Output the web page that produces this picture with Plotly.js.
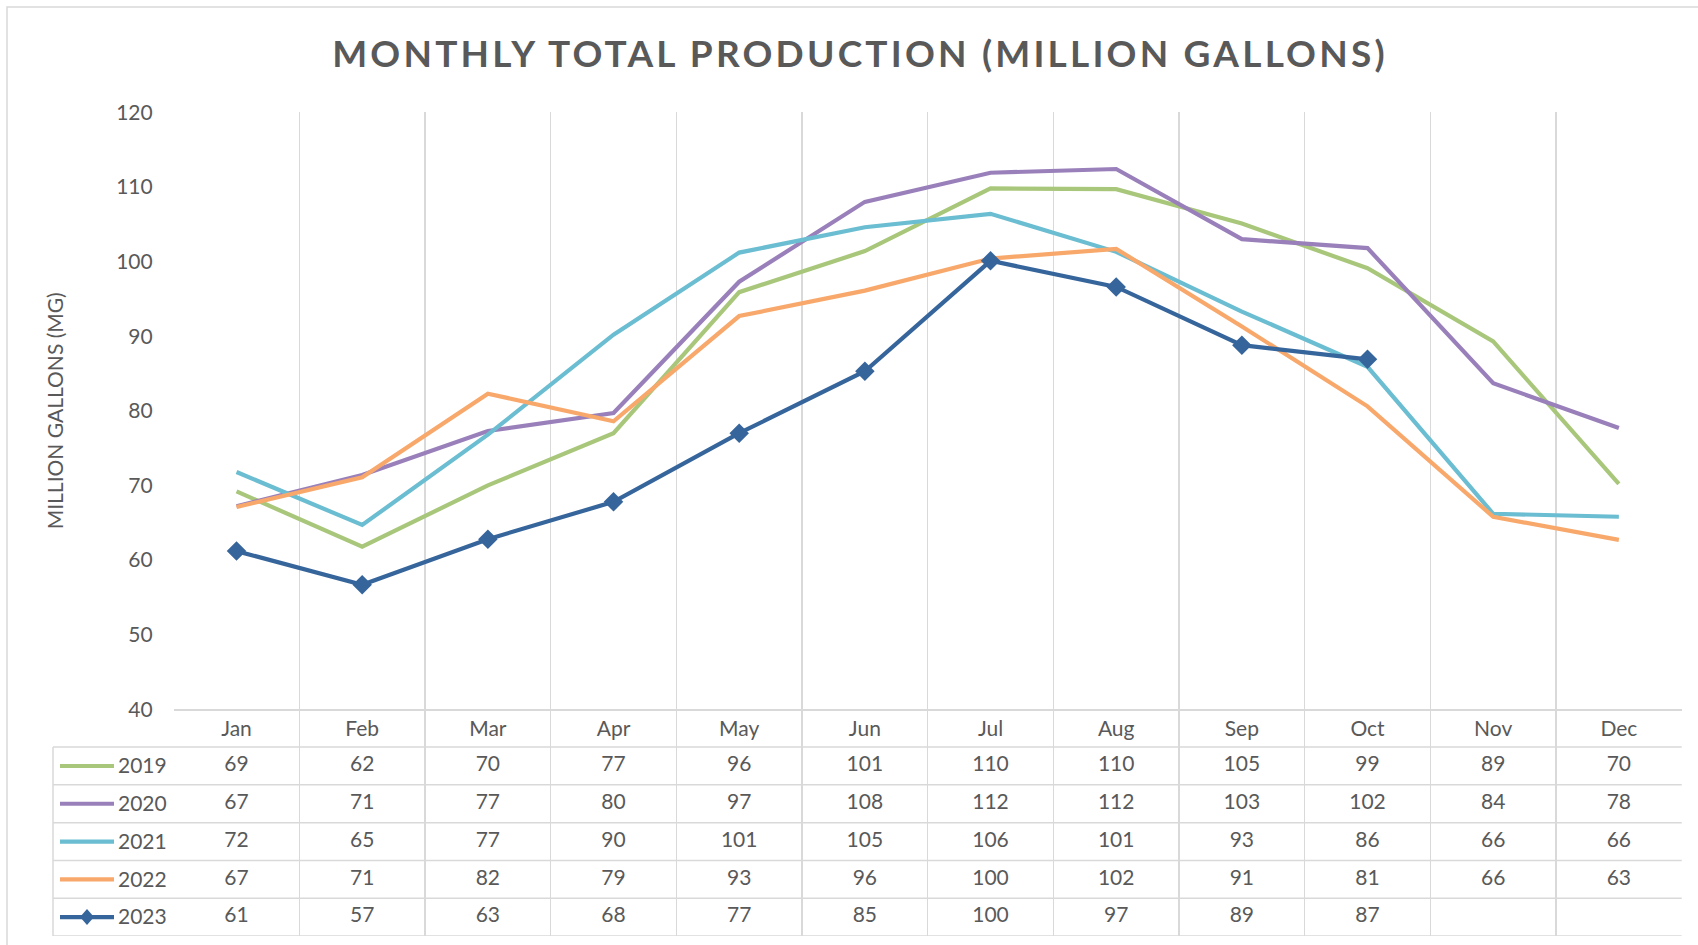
<!DOCTYPE html>
<html>
<head>
<meta charset="utf-8">
<script src="https://cdn.plot.ly/plotly-3.0.1.min.js"></script>
<style>
  html, body { margin: 0; padding: 0; background: #ffffff; }
  #chart { width: 1698px; height: 945px; }
  .gtitle { letter-spacing: 3.2px; }
</style>
</head>
<body>
<div id="chart"></div>
<script>
// ---- Data ----
const months = ['Jan', 'Feb', 'Mar', 'Apr', 'May', 'Jun', 'Jul', 'Aug', 'Sep', 'Oct', 'Nov', 'Dec'];
const years = ['2019', '2020', '2021', '2022', '2023'];
const v2019 = [69.2, 61.8, 70.0, 77.0, 95.9, 101.4, 109.8, 109.7, 105.1, 99.1, 89.3, 70.2];
const v2020 = [67.2, 71.4, 77.3, 79.7, 97.3, 108.0, 111.9, 112.4, 103.0, 101.8, 83.7, 77.7];
const v2021 = [71.8, 64.7, 76.8, 90.2, 101.2, 104.6, 106.4, 101.3, 93.3, 85.9, 66.2, 65.8];
const v2022 = [67.1, 71.1, 82.3, 78.6, 92.7, 96.1, 100.4, 101.7, 91.3, 80.6, 65.8, 62.7];
const v2023 = [61.2, 56.7, 62.8, 67.8, 77.0, 85.3, 100.1, 96.6, 88.8, 86.9, null, null];
const titleText = 'MONTHLY TOTAL PRODUCTION (MILLION GALLONS)';
const yTitleText = 'MILLION GALLONS (MG)';

// ---- Styling ----
const seriesValues = [v2019, v2020, v2021, v2022, v2023];
const seriesColors = ['#a9c77b', '#9a80ba', '#6bbdd1', '#f8a86b', '#36659c'];
const textColor = '#595959';
const gridColor = '#d9d9d9';
const W = 1698, H = 945;
const plotLeft = 173.7, plotRight = 1681.7, plotTop = 112.3, axisY = 709.3, tableBottom = 936;
const tableLeft = 53;
const FONT = 'Lato, "Open Sans", sans-serif';
const FS = 21;

const traces = [];
// Lines
seriesValues.forEach((vals, i) => {
  const isLast = i === seriesValues.length - 1;
  traces.push({
    type: 'scatter',
    x: months,
    y: vals,
    name: years[i],
    mode: isLast ? 'lines+markers' : 'lines',
    line: { color: seriesColors[i], width: 4.2 },
    marker: { symbol: 'diamond', size: 15, color: seriesColors[i] },
    xaxis: 'x', yaxis: 'y',
    hoverinfo: 'x+y+name',
    connectgaps: false
  });
});
// Data table cells (rounded values), one text trace per series row
seriesValues.forEach((vals, i) => {
  const xs = [], ys = [], ts = [];
  vals.forEach((v, j) => {
    if (v !== null) { xs.push(months[j]); ys.push(i + 1.5); ts.push(String(Math.round(v))); }
  });
  traces.push({
    type: 'scatter',
    x: xs, y: ys, text: ts,
    mode: 'text',
    textposition: 'middle center',
    textfont: { family: FONT, size: FS, color: textColor },
    xaxis: 'x', yaxis: 'y2',
    hoverinfo: 'skip',
    cliponaxis: false
  });
});

const shapes = [];
// table horizontal rules
for (let k = 1; k <= years.length + 1; k++) {
  shapes.push({ type: 'line', xref: 'paper', yref: 'y2', x0: tableLeft / W, x1: plotRight / W, y0: k, y1: k,
    line: { color: gridColor, width: 1.5 } });
}
// table left edge
shapes.push({ type: 'line', xref: 'paper', yref: 'y2', x0: tableLeft / W, x1: tableLeft / W, y0: 1, y1: years.length + 1,
  line: { color: gridColor, width: 1.5 } });
// legend keys in table
seriesColors.forEach((c, i) => {
  shapes.push({ type: 'line', xref: 'paper', yref: 'y2', x0: 60 / W, x1: 114 / W, y0: i + 1.5, y1: i + 1.5,
    line: { color: c, width: 4.2 } });
});
shapes.push({ type: 'path', xref: 'paper', yref: 'y2', xsizemode: 'pixel', ysizemode: 'pixel',
  xanchor: 87 / W, yanchor: years.length + 0.5,
  path: 'M -7 0 L 0 8 L 7 0 L 0 -8 Z', fillcolor: seriesColors[4], line: { width: 0 } });
// chart border
shapes.push({ type: 'rect', xref: 'paper', yref: 'paper', x0: 7 / W, x1: 1.05, y0: -0.05, y1: 1 - 7 / H,
  line: { color: gridColor, width: 1.5 }, fillcolor: 'rgba(0,0,0,0)' });

const layout = {
  width: W, height: H,
  margin: { l: 0, r: 0, t: 0, b: 0 },
  paper_bgcolor: '#ffffff', plot_bgcolor: 'rgba(0,0,0,0)',
  font: { family: FONT, size: FS, color: textColor },
  showlegend: false,
  title: {
    text: titleText,
    font: { family: FONT, size: 37, weight: 700, color: textColor },
    xref: 'container', yref: 'container',
    x: 860 / W, xanchor: 'center',
    y: 1 - 53.7 / H, yanchor: 'middle'
  },
  xaxis: {
    domain: [plotLeft / W, plotRight / W],
    type: 'category', range: [-0.5, months.length - 0.5],
    tickson: 'boundaries',
    showgrid: true, gridcolor: gridColor, gridwidth: 1.5,
    showline: true, linecolor: gridColor, linewidth: 1.5,
    ticks: '', ticklabelstandoff: 0,
    tickfont: { family: FONT, size: FS, color: textColor },
    zeroline: false, fixedrange: true, anchor: 'y'
  },
  yaxis: {
    domain: [(H - axisY) / H, (H - plotTop) / H],
    range: [40, 120], tick0: 40, dtick: 10,
    showgrid: false, zeroline: false, showline: false,
    ticks: '', ticklabelstandoff: 20,
    tickfont: { family: FONT, size: FS, color: textColor },
    title: { text: yTitleText, font: { family: FONT, size: FS, color: textColor }, standoff: 46 },
    fixedrange: true, anchor: 'x'
  },
  yaxis2: {
    domain: [(H - tableBottom) / H, (H - axisY) / H],
    range: [years.length + 1, 0],
    showgrid: false, zeroline: false, showline: false,
    tickmode: 'array',
    tickvals: years.map((_, i) => i + 1.5),
    ticktext: years,
    ticks: '', ticklabelstandoff: 6,
    tickfont: { family: FONT, size: FS, color: textColor },
    fixedrange: true, anchor: 'x'
  },
  shapes: shapes
};

Plotly.newPlot('chart', traces, layout, { displayModeBar: false, staticPlot: true });
</script>
</body>
</html>
